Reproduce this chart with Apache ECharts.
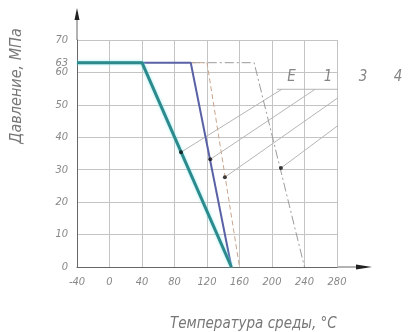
<!DOCTYPE html>
<html><head><meta charset="utf-8">
<script src="https://cdn.jsdelivr.net/npm/echarts@6/dist/echarts.min.js"></script>
<style>html,body{margin:0;padding:0;background:#fff}#c{width:411px;height:332px}</style>
</head><body><div id="c"></div>
<script>
// Data (temperature °C, pressure MPa)
const xTicks = [-40, 0, 40, 80, 120, 160, 200, 240, 280];
const yTicks = [0, 10, 20, 30, 40, 50, 60, 63, 70];
const curveE = [[-40, 63], [40, 63], [150, 0]];
const curve1 = [[-40, 63], [100, 63], [150, 0]];
const curve3 = [[100, 63], [120, 63], [160, 0]];
const curve4 = [[100, 63], [178, 63], [240, 0]];
const markerNames = ['E', '1', '3', '4'];
const markerPoints = [[88, 35.4], [124, 33.2], [142, 27.7], [211, 30.5]];
const leaderEnds = [[212, 54.8], [253, 54.8], [296, 54.8], [341, 54.8]];
const labelPoints = [[224, 58.5], [269, 58.5], [312, 58.5], [355, 58.5]];
const leaderBase = [[206, 54.8], [372, 54.8]];

const FONT = '"DejaVu Sans Condensed", "Liberation Sans Narrow", sans-serif';
const chart = echarts.init(document.getElementById('c'));
const leaderSeries = markerPoints.map((p, i) => ({
  type: 'line', data: [p, leaderEnds[i]], symbol: 'none', clip: false, silent: true,
  lineStyle: { color: '#b5b5b5', width: 1 }, z: 1
}));
chart.setOption({
  animation: false,
  grid: { left: 77, right: 74, top: 40, bottom: 65 },
  xAxis: {
    type: 'value', min: -40, max: 280, interval: 40,
    axisLine: { onZero: false, lineStyle: { color: '#666', width: 1 } },
    axisTick: { show: false },
    splitLine: { show: true, lineStyle: { color: '#c4c4c4', width: 1 } },
    axisLabel: { color: '#888', fontFamily: FONT, fontStyle: 'italic', fontSize: 11, margin: 10,
      customValues: xTicks }
  },
  yAxis: {
    type: 'value', min: 0, max: 70, interval: 10,
    axisLine: { show: true, onZero: false, lineStyle: { color: '#666', width: 1 } },
    axisTick: { show: false },
    splitLine: { show: true, lineStyle: { color: '#c4c4c4', width: 1 } },
    axisLabel: { color: '#888', fontFamily: FONT, fontStyle: 'italic', fontSize: 11, margin: 9,
      customValues: yTicks }
  },
  title: { text: 'Температура среды, °С', left: 165, top: 312,
    textStyle: { color: '#777', fontFamily: FONT, fontStyle: 'italic', fontWeight: 'normal', fontSize: 15 } },
  graphic: [
    { type: 'text', x: 17, y: 86, rotation: Math.PI / 2,
      style: { text: 'Давление, МПа', fill: '#777', font: 'italic 16px ' + FONT, textAlign: 'center', textVerticalAlign: 'middle' } },
    { type: 'line', shape: { x1: 77, y1: 40, x2: 77, y2: 12 }, style: { stroke: '#666', lineWidth: 1 } },
    { type: 'polygon', shape: { points: [[77, 8], [74.5, 20], [79.5, 20]] }, style: { fill: '#222' } },
    { type: 'line', shape: { x1: 337, y1: 267, x2: 366, y2: 267 }, style: { stroke: '#666', lineWidth: 1 } },
    { type: 'polygon', shape: { points: [[372, 267], [356, 264.5], [356, 269.5]] }, style: { fill: '#222' } }
  ],
  series: [
    ...leaderSeries,
    { type: 'line', data: leaderBase, symbol: 'none', clip: false, silent: true,
      lineStyle: { color: '#b5b5b5', width: 1 }, z: 1 },
    { type: 'line', data: curve4, symbol: 'none', clip: false,
      lineStyle: { color: '#9a9a9a', width: 1, type: [9, 3, 2, 3] }, z: 2 },
    { type: 'line', data: curve3, symbol: 'none', clip: false,
      lineStyle: { color: '#c9a58c', width: 1, type: [5, 3] }, z: 2 },
    { type: 'line', data: curve1, symbol: 'none', clip: false,
      lineStyle: { color: '#5a62a6', width: 2 }, z: 3 },
    { type: 'line', data: curveE, symbol: 'none', clip: false,
      lineStyle: { color: '#2c8a8c', width: 3, shadowColor: 'rgba(120,230,235,0.8)', shadowBlur: 3 }, z: 4 },
    { type: 'scatter', data: markerPoints, symbolSize: 4, itemStyle: { color: '#111' }, z: 5, clip: false },
    { type: 'scatter', data: labelPoints.map((p, i) => ({ value: p, name: markerNames[i] })),
      symbolSize: 0, clip: false, z: 5,
      label: { show: true, position: 'inside', formatter: '{b}', color: '#666',
        fontFamily: FONT, fontStyle: 'italic', fontSize: 15 } }
  ]
});
</script></body></html>
